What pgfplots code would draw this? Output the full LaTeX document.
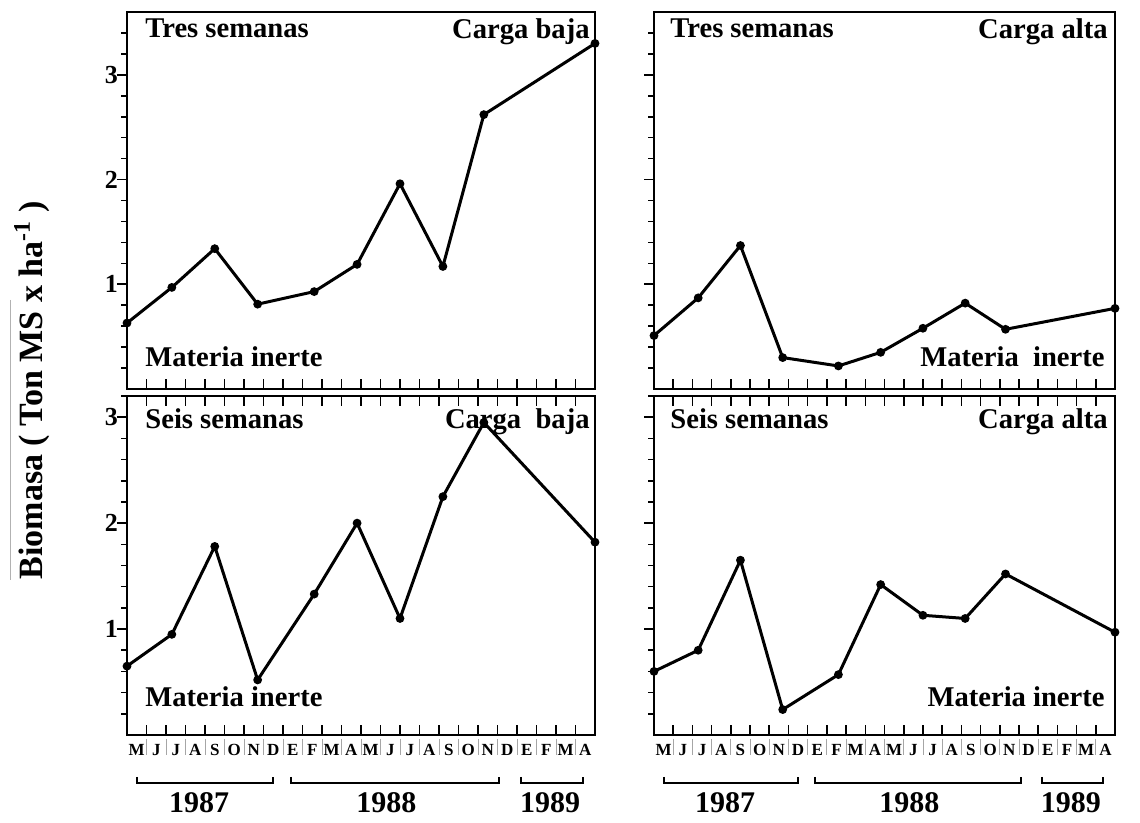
\documentclass[border=0pt]{standalone}
\usepackage{fontspec}
\setmainfont{Liberation Serif}
\usepackage{pgfplots}
\pgfplotsset{compat=1.18}

\newcommand\pf{\bfseries\fontsize{14.3}{16}\selectfont}
\tikzset{txt/.style={font=\pf, inner sep=0pt}}

\pgfplotsset{
  panel/.style={
    scale only axis, clip=false,
    xmin=0, xmax=24, ymin=0,
    axis line style={line width=1pt},
    xtick={0,...,24}, xticklabels={},
    ytick={1,2,3},
    minor ytick={0.2,0.4,0.6,0.8,1.2,1.4,1.6,1.8,2.2,2.4,2.6,2.8,3.2,3.4},
    tick align=inside,
    major tick length=5pt, minor tick length=3pt,
    every tick/.style={black, line width=0.8pt},
    major y tick style={xshift=-5pt},
    minor y tick style={xshift=-3pt},
    ytick pos=left,
    yticklabel style={font=\bfseries\fontsize{13}{13}\selectfont, xshift=-1pt},
    /pgf/number format/assume math mode=true,
  },
  bottompanel/.style={
    panel, ymax=3.2, height=169.5pt, xtick pos=both,
    extra x ticks={0.5,1.5,...,23.5},
    extra x tick labels={M,J,J,A,S,O,N,D,E,F,M,A,M,J,J,A,S,O,N,D,E,F,M,A},
    extra x tick style={tick style={draw=none},
      xticklabel style={font=\bfseries\fontsize{8.5}{8.5}\selectfont, yshift=-1pt}},
  },
  toppanel/.style={panel, ymax=3.6, height=188.5pt, xtick pos=lower},
  serie/.style={black, line width=1.5pt, mark=*, mark size=1.4pt},
}

% year brackets and labels under a bottom panel
\newcommand\years{%
  \pgfplotsinvokeforeach{1,...,23}{\draw[gray!70, line width=0.4pt] ([yshift=-2pt]axis cs:##1,0) -- ++(0,-8pt);}
  \draw[line width=1pt] ([yshift=-21pt]axis cs:0.5,0) |- ([yshift=-24pt]axis cs:7.5,0) -- ([yshift=-21pt]axis cs:7.5,0);
  \draw[line width=1pt] ([yshift=-21pt]axis cs:8.4,0) |- ([yshift=-24pt]axis cs:19.1,0) -- ([yshift=-21pt]axis cs:19.1,0);
  \draw[line width=1pt] ([yshift=-21pt]axis cs:20.2,0) |- ([yshift=-24pt]axis cs:23.4,0) -- ([yshift=-21pt]axis cs:23.4,0);
  \node[font=\bfseries\fontsize{15}{15}\selectfont] at ([yshift=-34pt]axis cs:3.7,0) {1987};
  \node[font=\bfseries\fontsize{15}{15}\selectfont] at ([yshift=-34pt]axis cs:13.3,0) {1988};
  \node[font=\bfseries\fontsize{15}{15}\selectfont] at ([yshift=-34pt]axis cs:21.7,0) {1989};
}

\begin{document}
\begin{tikzpicture}
\useasboundingbox (0,0) rectangle (570pt,-411.5pt);

% Tres semanas, carga baja
\begin{axis}[toppanel, at={(63.5pt,-6pt)}, anchor=north west, width=234pt]
\addplot[serie] coordinates {
  (0,0.63) (2.3,0.97) (4.5,1.34) (6.7,0.81) (9.6,0.93)
  (11.8,1.19) (14.0,1.96) (16.2,1.17) (18.3,2.62) (24,3.3)
};
\node[txt, anchor=north west] at ([xshift=9pt,yshift=-3pt]rel axis cs:0,1) {Tres semanas};
\node[txt, anchor=north east] at ([xshift=-2.5pt,yshift=-3pt]rel axis cs:1,1) {Carga baja};
\node[txt, anchor=south west] at ([xshift=9pt,yshift=11pt]rel axis cs:0,0) {Materia inerte};
\end{axis}

% Tres semanas, carga alta
\begin{axis}[toppanel, at={(327pt,-6pt)}, anchor=north west, width=230.5pt, yticklabels={}]
\addplot[serie] coordinates {
  (0,0.51) (2.3,0.87) (4.5,1.37) (6.7,0.30) (9.6,0.22)
  (11.8,0.35) (14.0,0.58) (16.2,0.82) (18.3,0.57) (24,0.77)
};
\node[txt, anchor=north west] at ([xshift=8pt,yshift=-3pt]rel axis cs:0,1) {Tres semanas};
\node[txt, anchor=north east] at ([xshift=-3.5pt,yshift=-3pt]rel axis cs:1,1) {Carga alta};
\node[txt, anchor=south east] at ([xshift=-5pt,yshift=11pt]rel axis cs:1,0) {Materia\ \ inerte};
\end{axis}

% Seis semanas, carga baja
\begin{axis}[bottompanel, at={(63.5pt,-198pt)}, anchor=north west, width=234pt]
\addplot[serie] coordinates {
  (0,0.65) (2.3,0.95) (4.5,1.78) (6.7,0.52) (9.6,1.33)
  (11.8,2.0) (14.0,1.1) (16.2,2.25) (18.3,2.95) (24,1.82)
};
\node[txt, anchor=north west] at ([xshift=9pt,yshift=-6pt]rel axis cs:0,1) {Seis semanas};
\node[txt, anchor=north east] at ([xshift=-2.5pt,yshift=-6pt]rel axis cs:1,1) {Carga\ \ baja};
\node[txt, anchor=south west] at ([xshift=9pt,yshift=14pt]rel axis cs:0,0) {Materia inerte};
\years
\end{axis}

% Seis semanas, carga alta
\begin{axis}[bottompanel, at={(327pt,-198pt)}, anchor=north west, width=230.5pt, yticklabels={}]
\addplot[serie] coordinates {
  (0,0.6) (2.3,0.8) (4.5,1.65) (6.7,0.24) (9.6,0.57)
  (11.8,1.42) (14.0,1.13) (16.2,1.1) (18.3,1.52) (24,0.97)
};
\node[txt, anchor=north west] at ([xshift=8pt,yshift=-6pt]rel axis cs:0,1) {Seis semanas};
\node[txt, anchor=north east] at ([xshift=-3.5pt,yshift=-6pt]rel axis cs:1,1) {Carga alta};
\node[txt, anchor=south east] at ([xshift=-5pt,yshift=14pt]rel axis cs:1,0) {Materia inerte};
\years
\end{axis}

\node[rotate=90, font=\bfseries\fontsize{17}{17}\selectfont] at (16pt,-195pt) {Biomasa ( Ton MS x ha\textsuperscript{-1} )};
\draw[gray!60, line width=0.5pt] (5pt,-150pt) -- (5pt,-290pt);
\end{tikzpicture}
\end{document}
